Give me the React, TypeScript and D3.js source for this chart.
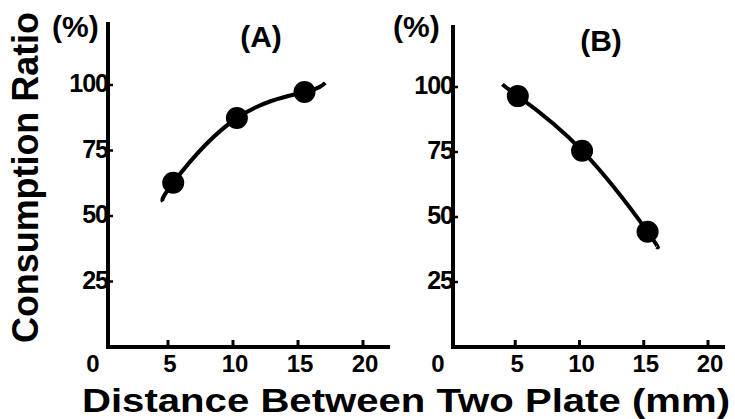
import React from "react";
import * as d3 from "d3";

const xTicks = [0, 5, 10, 15, 20];
const yTicks = [25, 50, 75, 100];

// Panel A measured points
const distA = [5.4, 10.3, 15.5];
const ratioA = [62.7, 87.4, 97.3];
// Panel A fitted curve (extends slightly beyond points)
const curveDistA = [4.6, 5.4, 10.3, 15.5, 17.1];
const curveRatioA = [55.5, 62.7, 87.4, 97.3, 100.8];

// Panel B measured points
const distB = [5.2, 10.2, 15.3];
const ratioB = [96.5, 75.5, 44.3];
const curveDistB = [4.0, 5.2, 10.2, 15.3, 16.0];
const curveRatioB = [101.0, 96.5, 75.5, 44.3, 38.5];

const panelLabels = ["(A)", "(B)"];
const xTitle = "Distance Between Two Plate (mm)";
const yTitle = "Consumption Ratio";

const FONT = "'Liberation Sans', Arial, Helvetica, sans-serif";

type PanelProps = {
  x0: number;
  x20: number;
  y0: number;
  y100: number;
  axisX: number;
  axisTop: number;
  axisRight: number;
  dist: number[];
  ratio: number[];
  cDist: number[];
  cRatio: number[];
  label: string;
  labelX: number;
  labelY: number;
  pctX: number;
};

function Panel(p: PanelProps) {
  const x = d3.scaleLinear().domain([0, 20]).range([p.x0, p.x20]);
  const y = d3.scaleLinear().domain([0, 100]).range([p.y0, p.y100]);
  const pts: [number, number][] = p.cDist.map((d, i) => [x(d), y(p.cRatio[i])]);
  const line = d3.line().curve(d3.curveNatural)(pts) || "";
  return (
    <g>
      {/* axes */}
      <line x1={p.axisX} y1={p.axisTop} x2={p.axisX} y2={p.y0 + 1} stroke="#000" strokeWidth={4} />
      <line x1={p.axisX - 2} y1={p.y0} x2={p.axisRight} y2={p.y0} stroke="#000" strokeWidth={4} />
      {xTicks.filter((t) => t > 0).map((t) => (
        <line key={"xt" + t} x1={x(t)} x2={x(t)} y1={p.y0 - 7} y2={p.y0 + 2} stroke="#000" strokeWidth={3} />
      ))}
      {yTicks.map((t) => (
        <line key={"yt" + t} x1={p.axisX - 2} x2={p.axisX + 5} y1={y(t)} y2={y(t)} stroke="#000" strokeWidth={2.5} />
      ))}
      {/* tick labels */}
      {xTicks.map((t) => (
        <text
          key={"xl" + t}
          x={t === 0 ? p.axisX - 15 : x(t) + 2}
          y={372}
          textAnchor="middle"
          fontFamily={FONT}
          fontSize={24}
          fontWeight="bold"
          fill="#000"
        >
          {t}
        </text>
      ))}
      {yTicks.map((t) => (
        <text
          key={"yl" + t}
          x={p.axisX}
          y={y(t) + 7}
          textAnchor="end"
          fontFamily={FONT}
          fontSize={25}
          fontWeight="bold"
          fill="#000"
          letterSpacing={-1}
        >
          {t}
        </text>
      ))}
      <text x={p.pctX} y={37} fontFamily={FONT} fontSize={30} fontWeight="bold" fill="#000">
        (%)
      </text>
      <text x={p.labelX} y={p.labelY} textAnchor="middle" fontFamily={FONT} fontSize={30} fontWeight="bold" fill="#000">
        {p.label}
      </text>
      {/* curve and points */}
      <path d={line} fill="none" stroke="#000" strokeWidth={4} />
      {p.dist.map((d, i) => (
        <circle key={"pt" + i} cx={x(d)} cy={y(p.ratio[i])} r={11} fill="#000" />
      ))}
    </g>
  );
}

export default function App() {
  return (
    <svg
      width={735}
      height={419}
      viewBox="0 0 735 419"
      style={{ position: "absolute", left: 0, top: 0, background: "#fff" }}
    >
      <rect x={0} y={0} width={735} height={419} fill="#fff" />
      <Panel
        x0={103}
        x20={363}
        y0={347}
        y100={85}
        axisX={108}
        axisTop={22}
        axisRight={390}
        dist={distA}
        ratio={ratioA}
        cDist={curveDistA}
        cRatio={curveRatioA}
        label={panelLabels[0]}
        labelX={261}
        labelY={47}
        pctX={52}
      />
      <Panel
        x0={451}
        x20={708}
        y0={347}
        y100={87}
        axisX={453}
        axisTop={25}
        axisRight={725}
        dist={distB}
        ratio={ratioB}
        cDist={curveDistB}
        cRatio={curveRatioB}
        label={panelLabels[1]}
        labelX={601}
        labelY={51}
        pctX={393}
      />
      <text
        x={82}
        y={412}
        textLength={648}
        lengthAdjust="spacingAndGlyphs"
        fontFamily={FONT}
        fontSize={34}
        fontWeight="bold"
        fill="#000"
      >
        {xTitle}
      </text>
      <text
        transform="translate(38,343) rotate(-90)"
        x={0}
        y={0}
        textLength={331}
        lengthAdjust="spacingAndGlyphs"
        fontFamily={FONT}
        fontSize={36}
        fontWeight="bold"
        fill="#000"
      >
        {yTitle}
      </text>
    </svg>
  );
}
